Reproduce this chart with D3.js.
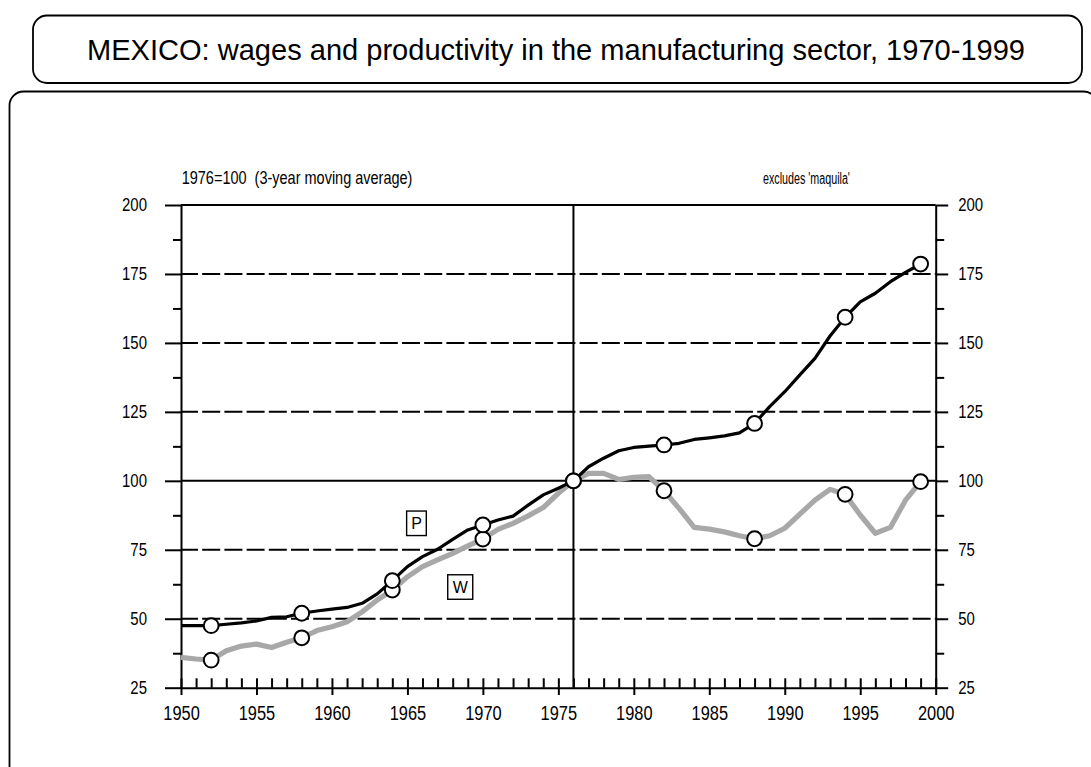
<!DOCTYPE html>
<html>
<head>
<meta charset="utf-8">
<script src="https://cdn.jsdelivr.net/npm/d3@7"></script>
<style>
  html, body { margin: 0; padding: 0; background: #fff; }
  svg { display: block; }
  text { font-family: "Liberation Sans", Arial, sans-serif; fill: #000; white-space: pre; }
</style>
</head>
<body>
<svg id="chart" width="1091" height="767"></svg>
<script>
// ---------- data ----------
const years = d3.range(1950, 2000);
const productivity = [
  47.5, 47.5, 47.5, 48.0, 48.5, 49.2, 50.5, 50.7, 52.0, 52.8,
  53.5, 54.1, 55.6, 59.0, 63.8, 68.9, 72.5, 75.2, 78.8, 82.2,
  84.0, 85.8, 87.2, 91.2, 94.9, 97.3, 100.0, 105.1, 108.2, 110.9,
  112.1, 112.6, 113.0, 113.6, 115.0, 115.6, 116.3, 117.4, 120.8, 126.9,
  132.3, 138.4, 144.4, 152.5, 159.3, 164.9, 168.0, 172.2, 175.6, 178.6
];
const wages = [
  36.0, 35.4, 35.0, 38.4, 40.1, 40.8, 39.6, 41.5, 43.1, 45.7,
  47.1, 48.9, 52.5, 56.8, 60.4, 65.2, 68.9, 71.3, 73.7, 76.4,
  78.9, 82.4, 84.6, 87.3, 90.3, 95.5, 100.0, 102.7, 102.7, 100.5,
  101.3, 101.5, 96.4, 90.0, 83.1, 82.5, 81.5, 80.1, 79.0, 80.1,
  82.8, 87.9, 93.0, 96.9, 95.1, 87.6, 81.0, 83.1, 93.0, 99.7
];
const markerYears = [1952, 1958, 1964, 1970, 1976, 1982, 1988, 1994, 1999];
const yMajorTicks = [25, 50, 75, 100, 125, 150, 175, 200];
const yMinorTicks = [37.5, 62.5, 87.5, 112.5, 137.5, 162.5, 187.5];
const xMajorTicks = [1950, 1955, 1960, 1965, 1970, 1975, 1980, 1985, 1990, 1995, 2000];
const xMinorTicks = d3.range(1950, 2001);
const dashedLevels = [50, 75, 125, 150, 175];
const solidLevels = [100, 200];
const baseYear = 1976;
const seriesNames = ["P", "W"];
const seriesLabelYears = [1965.6, 1968.5];
const seriesLabelValues = [84.6, 61.5];
const titleText = "MEXICO: wages and productivity in the manufacturing sector, 1970-1999";
const leftNote = "1976=100  (3-year moving average)";
const rightNote = "excludes 'maquila'";

// ---------- setup ----------
const svg = d3.select("#chart");
const x = d3.scaleLinear().domain([1950, 2000]).range([181, 935.7]);
const y = d3.scaleLinear().domain([25, 200]).range([687.7, 205]);

function condense(sel, factor) {
  sel.each(function () {
    const w = this.getComputedTextLength();
    d3.select(this).attr("textLength", w * factor).attr("lengthAdjust", "spacingAndGlyphs");
  });
}
// squeeze a text horizontally to a target width using a transform
function squeezeTo(t, x0, targetW) {
  const w = t.node().getComputedTextLength();
  const s = targetW / w;
  t.attr("x", 0).attr("transform", `translate(${x0},0) scale(${s},1)`);
}

// frames
svg.append("rect").attr("x", 33).attr("y", 15.5).attr("width", 1049).attr("height", 67.5)
  .attr("rx", 14).attr("fill", "none").attr("stroke", "#000").attr("stroke-width", 1.8);
svg.append("rect").attr("x", 9.5).attr("y", 91.5).attr("width", 1088).attr("height", 720)
  .attr("rx", 14).attr("fill", "none").attr("stroke", "#000").attr("stroke-width", 1.8);

// title
svg.append("text").attr("x", 556).attr("y", 60).attr("text-anchor", "middle")
  .style("font-size", "30px").text(titleText)
  .attr("textLength", 938).attr("lengthAdjust", "spacingAndGlyphs");

// notes
const ln = svg.append("text").attr("y", 184.5).style("font-size", "18px").text(leftNote);
squeezeTo(ln, 181.7, 231);
const rn = svg.append("text").attr("y", 184.5).style("font-size", "16px").text(rightNote);
squeezeTo(rn, 763, 87);

// grid lines
svg.append("g").selectAll("line").data(dashedLevels).join("line")
  .attr("x1", x(1950)).attr("x2", x(2000))
  .attr("y1", d => y(d)).attr("y2", d => y(d))
  .attr("stroke", "#000").attr("stroke-width", 2)
  .attr("stroke-dasharray", "18,4.2").attr("stroke-dashoffset", 1);
svg.append("g").selectAll("line").data(solidLevels).join("line")
  .attr("x1", x(1950)).attr("x2", x(2000))
  .attr("y1", d => y(d)).attr("y2", d => y(d))
  .attr("stroke", "#000").attr("stroke-width", 2);
svg.append("line").attr("x1", x(baseYear)).attr("x2", x(baseYear))
  .attr("y1", y(200)).attr("y2", y(25)).attr("stroke", "#000").attr("stroke-width", 2);

// axes
function styleAxis(g) {
  g.attr("font-family", null).attr("font-size", null);
  g.selectAll("path.domain").attr("stroke", "#000").attr("stroke-width", 2);
  g.selectAll(".tick line").attr("stroke", "#000").attr("stroke-width", 2);
}
// left
const gl = svg.append("g").attr("transform", `translate(${x(1950)},0)`)
  .call(d3.axisLeft(y).tickValues(yMajorTicks).tickSize(16).tickSizeOuter(0).tickPadding(18));
styleAxis(gl);
gl.selectAll(".tick text").style("font-size", "18px").call(condense, 0.83);
const glm = svg.append("g").attr("transform", `translate(${x(1950)},0)`)
  .call(d3.axisLeft(y).tickValues(yMinorTicks).tickSize(8).tickSizeOuter(0).tickFormat(""));
styleAxis(glm); glm.select("path.domain").remove();
// right
const gr = svg.append("g").attr("transform", `translate(${x(2000)},0)`)
  .call(d3.axisRight(y).tickValues(yMajorTicks).tickSize(12.5).tickSizeOuter(0).tickPadding(10));
styleAxis(gr);
gr.selectAll(".tick text").style("font-size", "18px").call(condense, 0.83);
const grm = svg.append("g").attr("transform", `translate(${x(2000)},0)`)
  .call(d3.axisRight(y).tickValues(yMinorTicks).tickSize(8.5).tickSizeOuter(0).tickFormat(""));
styleAxis(grm); grm.select("path.domain").remove();
// bottom
const gb = svg.append("g").attr("transform", `translate(0,${y(25)})`)
  .call(d3.axisBottom(x).tickValues(xMajorTicks).tickSize(7.3).tickSizeOuter(0)
    .tickPadding(10.7).tickFormat(d3.format("d")));
styleAxis(gb);
gb.selectAll(".tick text").style("font-size", "20px").call(condense, 0.82);
const gbm = svg.append("g").attr("transform", `translate(0,${y(25)})`)
  .call(d3.axisBottom(x).tickValues(xMinorTicks).tickSize(-9.4).tickSizeOuter(0).tickFormat(""));
styleAxis(gbm); gbm.select("path.domain").remove();

// lines
const line = d3.line().x(d => x(d[0])).y(d => y(d[1]));
const wData = years.map((yr, i) => [yr, wages[i]]);
const pData = years.map((yr, i) => [yr, productivity[i]]);
svg.append("path").datum(wData).attr("d", line).attr("fill", "none")
  .attr("stroke", "#a8a8a8").attr("stroke-width", 5.2).attr("stroke-linejoin", "round");
svg.append("path").datum(pData).attr("d", line).attr("fill", "none")
  .attr("stroke", "#000").attr("stroke-width", 3.2).attr("stroke-linejoin", "round");

// markers
function markers(data) {
  svg.append("g").selectAll("circle")
    .data(data.filter(d => markerYears.includes(d[0])))
    .join("circle")
    .attr("cx", d => x(d[0])).attr("cy", d => y(d[1])).attr("r", 7.4)
    .attr("fill", "#fff").attr("stroke", "#000").attr("stroke-width", 2);
}
markers(wData);
markers(pData);

// series labels in boxes
seriesNames.forEach((name, i) => {
  const cx = x(seriesLabelYears[i]), cy = y(seriesLabelValues[i]);
  const g = svg.append("g");
  const t = g.append("text").attr("x", cx).attr("y", cy + 6).attr("text-anchor", "middle")
    .style("font-size", "16px").text(name);
  const bb = t.node().getBBox();
  const w = bb.width + 9, h = 24.5;
  g.insert("rect", "text").attr("x", cx - w / 2).attr("y", cy - h / 2)
    .attr("width", w).attr("height", h).attr("fill", "#fff")
    .attr("stroke", "#000").attr("stroke-width", 1.4);
});
</script>
</body>
</html>
